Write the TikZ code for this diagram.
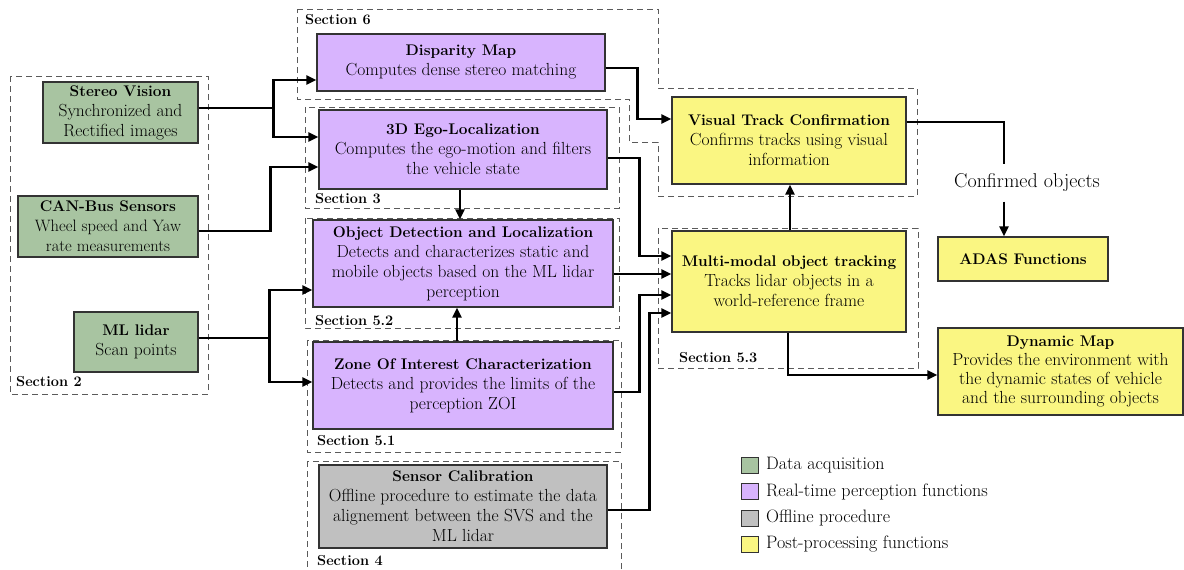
\documentclass[tikz,border=0pt]{standalone}
\usetikzlibrary{arrows.meta,calc}
\definecolor{cgreen}{RGB}{168,196,161}
\definecolor{cpurple}{RGB}{216,180,254}
\definecolor{cgrey}{RGB}{192,192,192}
\definecolor{cyellow}{RGB}{250,246,130}
\definecolor{dashc}{RGB}{90,90,90}
\newcommand\boxtitle[1]{{\fontsize{15.4}{20}\selectfont\bfseries #1}}
\begin{document}
\begin{tikzpicture}[x=1pt,y=-1pt,
 box/.style={draw=black!80, line width=1.2pt, align=center, inner sep=0pt, font=\fontsize{17.5}{20}\selectfont},
 gbox/.style={box, fill=cgreen},
 pbox/.style={box, fill=cpurple},
 kbox/.style={box, fill=cgrey},
 ybox/.style={box, fill=cyellow},
 sec/.style={draw=dashc, line width=1pt, dash pattern=on 6pt off 4pt},
 lab/.style={anchor=west, inner sep=0pt, font=\fontsize{14.5}{17}\selectfont\bfseries},
 arr/.style={line width=2.4pt, -{Triangle[length=10pt,width=9pt]}},
 ln/.style={line width=2.4pt},
 leg/.style={draw=black!80, line width=1pt, minimum width=17pt, minimum height=16pt, inner sep=0pt},
 legt/.style={anchor=west, inner sep=0pt, font=\fontsize{18}{20}\selectfont}
]
\useasboundingbox (0,0) rectangle (1184,570);

% dashed section frames
\draw[sec] (10,76) rectangle (208,394);
\draw[sec] (297,9) -- (658,9) -- (658,88) -- (917,88) -- (917,196) -- (658,196) -- (658,142) -- (629,142) -- (629,99) -- (297,99) -- cycle;
\draw[sec] (305,107) rectangle (619,208);
\draw[sec] (305,218) rectangle (619,328);
\draw[sec] (307,340) rectangle (621,452);
\draw[sec] (307,461) rectangle (621,578);
\draw[sec] (658,228) rectangle (918,368);

% section labels
\node[lab] (l2) at (16,382) {Section 2};
\node[lab] (l6) at (305,20) {Section 6};
\node[lab] (l3) at (315,199) {Section 3};
\node[lab] (l52) at (315,321) {Section 5.2};
\node[lab] (l51) at (317,441) {Section 5.1};
\node[lab] (l4) at (317,561) {Section 4};
\node[lab] (l53) at (679,358) {Section 5.3};

% boxes
\node[gbox, minimum width=155pt, minimum height=61pt] (sv) at (120.5,112.5) {\boxtitle{Stereo Vision}\\Synchronized and\\Rectified images};
\node[gbox, minimum width=180pt, minimum height=61pt, font=\fontsize{16.5}{20}\selectfont] (can) at (108,226.5) {\boxtitle{CAN-Bus Sensors}\\Wheel speed and Yaw\\rate measurements};
\node[gbox, minimum width=124pt, minimum height=60pt] (ml) at (136,342) {\boxtitle{ML lidar}\\Scan points};

\node[pbox, minimum width=288pt, minimum height=57pt] (disp) at (461,62.5) {\boxtitle{Disparity Map}\\Computes dense stereo matching};
\node[pbox, minimum width=288pt, minimum height=79pt] (ego) at (463,149.5) {\boxtitle{3D Ego-Localization}\\Computes the ego-motion and filters\\the vehicle state};
\node[pbox, minimum width=300pt, minimum height=87pt] (od) at (463,263.5) {\boxtitle{Object Detection and Localization}\\Detects and characterizes static and\\mobile objects based on the ML lidar\\perception};
\node[pbox, minimum width=300pt, minimum height=87pt] (zoi) at (463,385.5) {\boxtitle{Zone Of Interest Characterization}\\Detects and provides the limits of the\\perception ZOI};
\node[kbox, minimum width=288pt, minimum height=83pt] (cal) at (463,506.5) {\boxtitle{Sensor Calibration}\\Offline procedure to estimate the data\\alignement between the SVS and the\\ML lidar};

\node[ybox, minimum width=234pt, minimum height=87pt] (vt) at (789,140.5) {\boxtitle{Visual Track Confirmation}\\Confirms tracks using visual\\information};
\node[ybox, minimum width=234pt, minimum height=101pt] (mm) at (789,281.5) {\boxtitle{Multi-modal object tracking}\\Tracks lidar objects in a\\world-reference frame};
\node[ybox, minimum width=170pt, minimum height=44pt] (adas) at (1023,259) {\boxtitle{ADAS Functions}};
\node[ybox, minimum width=245pt, minimum height=87pt, font=\fontsize{17.5}{19}\selectfont] (dyn) at (1060.5,371.5) {\boxtitle{Dynamic Map}\\Provides the environment with\\the dynamic states of vehicle\\and the surrounding objects};

\node[inner sep=0pt, minimum height=37pt, font=\fontsize{20}{24}\selectfont] (conf) at (1027,183) {Confirmed objects};

% connectors
\draw[arr] ([yshift=4.5pt]sv.east) -- ++(75,0) |- ([yshift=-17.5pt]disp.west);
\draw[arr] ([yshift=4.5pt]sv.east) -- ++(75,0) |- ([yshift=12.5pt]ego.west);
\draw[arr] ([yshift=-4.5pt]can.east) -- ++(72,0) |- ([yshift=-17.5pt]ego.west);
\draw[arr] ([yshift=4pt]ml.east) -- ++(71,0) |- ([yshift=-26.5pt]od.west);
\draw[arr] ([yshift=4pt]ml.east) -- ++(71,0) |- ([yshift=3.5pt]zoi.west);
\draw[arr] ([xshift=-3pt]ego.south) -- ([xshift=-3pt]ego.south |- od.north);
\draw[arr] ([xshift=-6pt]zoi.north) -- ([xshift=-6pt]zoi.north |- od.south);
\draw[arr] ([yshift=-5.5pt]disp.east) -- ++(32,0) |- ([yshift=21.5pt]vt.west);
\draw[arr] ([yshift=-8.5pt]ego.east) -- ++(32,0) |- ([yshift=25.5pt]mm.west);
\draw[arr] ([yshift=-10.5pt]od.east) -- ([yshift=-10.5pt]od.east -| mm.west);
\draw[arr] ([yshift=-6.5pt]zoi.east) -- ++(26,0) |- ([yshift=-13.5pt]mm.west);
\draw[arr] ([yshift=-3.5pt]cal.east) -- ++(42,0) |- ([yshift=-31.5pt]mm.west);
\draw[arr] ([xshift=1pt]mm.north) -- ([xshift=1pt]mm.north |- vt.south);
\draw[ln] ([yshift=18.5pt]vt.east) -| ([xshift=-19pt]adas.north |- conf.north);
\draw[arr] ([xshift=-19pt]adas.north |- conf.south) -- ([xshift=-19pt]adas.north);
\draw[arr] ([xshift=-1pt]mm.south) |- ([yshift=-3.5pt]dyn.west);

% legend
\node[leg, fill=cgreen] (k1) at (749.5,465) {};
\node[leg, fill=cpurple] (k2) at (749.5,491.5) {};
\node[leg, fill=cgrey] (k3) at (749.5,518) {};
\node[leg, fill=cyellow] (k4) at (749.5,544.5) {};
\node[legt] (t1) at (766,465) {Data acquisition};
\node[legt] (t2) at (766,491.5) {Real-time perception functions};
\node[legt] (t3) at (766,518) {Offline procedure};
\node[legt] (t4) at (766,544.5) {Post-processing functions};
\end{tikzpicture}
\end{document}
